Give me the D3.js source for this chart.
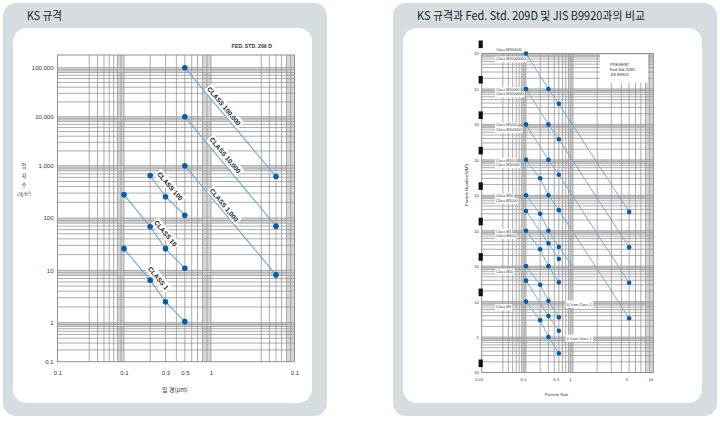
<!DOCTYPE html>
<html><head><meta charset="utf-8">
<script src="https://cdn.jsdelivr.net/npm/d3@7/dist/d3.min.js"></script>
<style>html,body{margin:0;padding:0;background:#fff;}svg{display:block;}</style>
</head><body>
<svg id="chart" width="720" height="424"></svg>
<script>
// ================= DATA =================
const leftTitle = "KS 규격";
const rightTitle = "KS 규격과 Fed. Std. 209D 및 JIS B9920과의 비교";

// Left chart: FED. STD. 209 D  (particle size µm -> particles per ft³)
const leftSizesLow = [0.1, 0.2, 0.3, 0.5];
const leftSizesMid = [0.2, 0.3, 0.5];
const leftSizesHigh = [0.5, 6];
const class1 = [26, 6.5, 2.5, 1.05];
const class10 = [280, 68, 26, 11];
const class100 = [650, 255, 113];
const class1000 = [1000, 8.2];
const class10000 = [10000, 70];
const class100000 = [100000, 620];
const leftClassNames = ["CLASS 1", "CLASS 10", "CLASS 100", "CLASS 1,000", "CLASS 10,000", "CLASS 100,000"];
const leftYTicks = [0.1, 1, 10, 100, 1000, 10000, 100000];
const leftYTickLabels = ["0.1", "1", "10", "100", "1,000", "10,000", "100,000"];
const leftXTicks = [0.01, 0.1, 0.3, 0.5, 1, 10];
const leftXTickLabels = ["0.1", "0.1", "0.3", "0.5", "1", "0.1"];
const leftStdLabel = "FED. STD. 209 D";
const leftYTitle = ["입", "자", "수", "(개/ft³)"];
const leftXTitle = "입 경(μm)";

// Right chart: comparison (particle size µm -> particles per m³)
const rSizesA = [0.1, 0.3, 0.5, 5];
const rSizesB = [0.1, 0.2, 0.3, 0.5, 5];
const rSizesC = [0.1, 0.2, 0.3, 0.5, 1];
const rSizesD = [0.1, 0.2, 0.3, 0.5];
const rSizesE = [0.1, 0.3, 0.5];
const rLine1 = [1e8, 1e7, 3.8e6, 3400];
const rLine2 = [1e7, 1e6, 3.8e5, 340];
const rLine3 = [1e6, 1e5, 3.8e4, 34];
const rLine4 = [1e5, 3e4, 1e4, 3800, 3.4];
const rLine5 = [1e4, 3e3, 1e3, 350, 95];
const rLine6 = [1000, 300, 100, 35];
const rLine7 = [100, 30, 10.5, 3.6];
const rLine8 = [10, 3, 1, 0.35];
const rLine9 = [3600, 440, 160];
const rLine10 = [39, 3.9, 1.5];
const rYTicks = [0.1, 1, 10, 100, 1000, 1e4, 1e5, 1e6, 1e7, 1e8];
const rYTickLabels = ["10", "1", "10", "10", "10", "10", "10", "10", "10", "10"];
const rXTicks = [0.01, 0.1, 0.5, 1, 5, 10];
const rXTickLabels = ["0.01", "0.1", "0.5", "1", "5", "10"];
const rClassLabelValues = [1e8, 1e7, 1e6, 1e5, 1e4, 1e3, 100, 10];
const rClassLabels = [
  ["Class M100000", "Class M10000000"],
  ["Class M10000", "Class M1000000"],
  ["Class M1000", "Class M100000"],
  ["Class M100", "Class M10000"],
  ["Class M10", "Class M1000"],
  ["Class M1", "Class M100"],
  ["", "Class M10"],
  ["", "Class M1"]
];
const rNoteLabels = ["0.1um Class 1", "0.1um Class 1"];
const rNoteValues = [8.5, 0.92];
const rNoteSize = 0.74;
const rLegend = ["PRESENT", "Fed.Std.209D", "JIS B9920"];
const rXTitle = "Particle Size";
const rYTitle = "Particle Number(N/M³)";

// ================= DRAWING =================
const svg = d3.select("#chart");
const FONT = "'Liberation Sans', Arial, Helvetica, sans-serif";
const KFONT = "'Noto Sans CJK KR', 'Noto Sans', sans-serif";
const DOT = "#0b5ba6", LINE = "#6ea9d8", GRID = "#979797", BAND = "#d8d8d8";

function panel(x, title, tlen) {
  svg.append("rect").attr("x", x).attr("y", 3).attr("width", 324).attr("height", 413).attr("rx", 13).attr("fill", "#d5dde0");
  svg.append("rect").attr("x", x + 10).attr("y", 28).attr("width", 299).attr("height", 375).attr("rx", 14).attr("fill", "#fff");
  svg.append("text").attr("x", x + 24).attr("y", 19.5).attr("font-family", KFONT).attr("font-size", 11.5)
    .attr("fill", "#1e1e1e").attr("textLength", tlen).attr("lengthAdjust", "spacingAndGlyphs").text(title);
}
panel(3, leftTitle, 35);
panel(393, rightTitle, 228);

function multVals(decades, mults) {
  const out = [];
  decades.forEach((d, i) => mults[i].forEach(m => out.push(d * m)));
  return out;
}
const M29 = [2, 3, 4, 5, 6, 7, 8, 9];

function drawGrid(g, x, y, xMinor, yMinor, xBand, yBand, xr, yr) {
  const [x0, x1] = xr, [y0, y1] = yr;
  xBand.forEach(d => {
    const a = Math.max(x0, x(d * 0.8)), b = Math.min(x1, x(d));
    g.append("rect").attr("x", a).attr("y", y0).attr("width", b - a).attr("height", y1 - y0).attr("fill", BAND);
  });
  yBand.forEach(d => {
    const a = Math.max(y0, y(d)), b = Math.min(y1, y(d * 0.8));
    g.append("rect").attr("x", x0).attr("y", a).attr("width", x1 - x0).attr("height", b - a).attr("fill", BAND);
  });
  xMinor.map(x).filter(p => p > x0 && p < x1).forEach(p =>
    g.append("line").attr("x1", p).attr("x2", p).attr("y1", y0).attr("y2", y1).attr("stroke", GRID).attr("stroke-width", 0.8));
  yMinor.map(y).filter(p => p > y0 && p < y1).forEach(p =>
    g.append("line").attr("x1", x0).attr("x2", x1).attr("y1", p).attr("y2", p).attr("stroke", GRID).attr("stroke-width", 0.8));
  g.append("rect").attr("x", x0).attr("y", y0).attr("width", x1 - x0).attr("height", y1 - y0)
    .attr("fill", "none").attr("stroke", "#858585").attr("stroke-width", 0.9);
}

function textWithBox(g, x, y, txt, fs, opts = {}) {
  const t = g.append("text").attr("x", x).attr("y", y).attr("font-family", FONT).attr("font-size", fs)
    .attr("fill", opts.fill || "#222").attr("font-weight", opts.weight || "normal")
    .attr("text-anchor", opts.anchor || "start").attr("dominant-baseline", "central").text(txt);
  const bb = t.node().getBBox();
  const p = opts.pad == null ? 0.8 : opts.pad;
  g.insert("rect", () => t.node()).attr("x", bb.x - p).attr("y", bb.y - p)
    .attr("width", bb.width + 2 * p).attr("height", bb.height + 2 * p).attr("fill", "#fff");
  return t;
}

// ---------- LEFT CHART ----------
const lX = d3.scaleLog().domain([0.01, 0.1, 1, 10]).range([57.5, 124, 211, 294.5]);
const lY = d3.scaleLog().domain([0.1, 1, 1000, 100000]).range([361.7, 322.7, 165.7, 67.7]);
const L = svg.append("g");
drawGrid(L, lX, lY,
  multVals([0.01, 0.1, 1], [[3, 4, 5, 6, 7, 8, 9], M29, [4, 5, 6, 7, 8, 9]]).concat([0.1, 1]),
  multVals([0.1, 1, 10, 100, 1000, 10000, 100000], [M29, M29, M29, M29, M29, M29, M29]).concat(leftYTicks),
  [0.1, 1, 10], [1, 10, 100, 1000, 10000, 100000, 1000000],
  [57.5, 294.5], [55, 361.7]);

const lyAxis = L.append("g").attr("transform", "translate(53.5,0)")
  .call(d3.axisLeft(lY).tickValues(leftYTicks).tickFormat((d, i) => leftYTickLabels[i]).tickSize(0).tickPadding(0));
lyAxis.select(".domain").remove();
lyAxis.selectAll("text").attr("font-size", 6).attr("font-family", FONT).attr("fill", "#333");
const lxAxis = L.append("g").attr("transform", "translate(0,370.8)")
  .call(d3.axisBottom(lX).tickValues(leftXTicks).tickFormat((d, i) => leftXTickLabels[i]).tickSize(0).tickPadding(0));
lxAxis.select(".domain").remove();
lxAxis.selectAll("text").attr("font-size", 6).attr("font-family", FONT).attr("fill", "#333");

L.append("text").attr("x", 251.7).attr("y", 45.7).attr("text-anchor", "middle").attr("dominant-baseline", "central")
  .attr("font-family", FONT).attr("font-size", 5.2).attr("font-weight", "bold").attr("fill", "#333").text(leftStdLabel);
leftYTitle.forEach((s, i) => L.append("text").attr("x", 24).attr("y", [165.7, 175.7, 185, 194][i])
  .attr("text-anchor", "middle").attr("dominant-baseline", "central").attr("font-family", KFONT)
  .attr("font-size", i === 3 ? 4.6 : 5.4).attr("fill", "#333").text(s));
L.append("text").attr("x", 175).attr("y", 389.5).attr("text-anchor", "middle").attr("dominant-baseline", "central")
  .attr("font-family", KFONT).attr("font-size", 6).attr("fill", "#333").text(leftXTitle);

const leftSeries = [
  { name: leftClassNames[0], sizes: leftSizesLow, vals: class1, t: 0.47, d: 7.5 },
  { name: leftClassNames[1], sizes: leftSizesLow, vals: class10, t: 0.59, d: 7.5 },
  { name: leftClassNames[2], sizes: leftSizesMid, vals: class100, t: 0.40, d: 8 },
  { name: leftClassNames[3], sizes: leftSizesHigh, vals: class1000, t: 0.39, d: 5 },
  { name: leftClassNames[4], sizes: leftSizesHigh, vals: class10000, t: 0.39, d: 6.5 },
  { name: leftClassNames[5], sizes: leftSizesHigh, vals: class100000, t: 0.385, d: 5.5 }
];
const lLine = d3.line().x(d => lX(d[0])).y(d => lY(d[1]));
leftSeries.forEach(s => {
  const pts = s.sizes.map((x, i) => [x, s.vals[i]]);
  const p0 = [lX(pts[0][0]), lY(pts[0][1])], p1 = [lX(pts[pts.length - 1][0]), lY(pts[pts.length - 1][1])];
  const ang = Math.atan2(p1[1] - p0[1], p1[0] - p0[0]);
  const cx = p0[0] + s.t * (p1[0] - p0[0]) + s.d * Math.sin(ang);
  const cy = p0[1] + s.t * (p1[1] - p0[1]) - s.d * Math.cos(ang);
  const lg = L.append("g").attr("transform", `translate(${cx},${cy}) rotate(${ang * 180 / Math.PI})`);
  textWithBox(lg, 0, 0, s.name, 6.6, { anchor: "middle", weight: "bold", fill: "#222", pad: 1.2 });
});
leftSeries.forEach(s => {
  const pts = s.sizes.map((x, i) => [x, s.vals[i]]);
  L.append("path").attr("d", lLine(pts)).attr("fill", "none").attr("stroke", LINE).attr("stroke-width", 1.1);
  L.selectAll(null).data(pts).enter().append("circle").attr("cx", d => lX(d[0])).attr("cy", d => lY(d[1]))
    .attr("r", 2.8).attr("fill", DOT);
});

// ---------- RIGHT CHART ----------
const rX = d3.scaleLog().domain([0.01, 0.1, 1, 10]).range([481.7, 526, 573, 653.3]);
const rY = d3.scaleLog().domain([0.1, 1e8]).range([372.5, 53.5]);
const R = svg.append("g");
drawGrid(R, rX, rY,
  multVals([0.01, 0.1, 1], [[3, 4, 5, 6, 7, 8, 9], M29, M29]).concat([0.1, 1]),
  multVals(rYTicks.slice(0, 9), rYTicks.slice(0, 9).map(() => M29)).concat(rYTicks),
  [0.1, 1, 10], rYTicks.slice(1).concat([1e9]),
  [481.7, 653.3], [53.5, 372.5]);

const ryAxis = R.append("g").attr("transform", "translate(479,0)")
  .call(d3.axisLeft(rY).tickValues(rYTicks).tickFormat((d, i) => rYTickLabels[i]).tickSize(0).tickPadding(0));
ryAxis.select(".domain").remove();
ryAxis.selectAll("text").attr("font-size", 4.3).attr("font-family", FONT).attr("fill", "#333");
rYTicks.forEach((v, i) => {
  if (rYTickLabels[i] === "1") return;
  R.append("rect").attr("x", 478.6).attr("y", rY(v) - 13).attr("width", 4.2).attr("height", 7.6).attr("fill", "#111");
});
const rxAxis = R.append("g").attr("transform", "translate(0,377.6)")
  .call(d3.axisBottom(rX).tickValues(rXTicks).tickFormat((d, i) => rXTickLabels[i]).tickSize(0).tickPadding(0));
rxAxis.select(".domain").remove();
rxAxis.selectAll("text").attr("font-size", 4.3).attr("font-family", FONT).attr("fill", "#333").attr("dx", -3);

R.append("text").attr("x", 556.7).attr("y", 394.5).attr("text-anchor", "middle").attr("dominant-baseline", "central")
  .attr("font-family", FONT).attr("font-size", 4.2).attr("fill", "#333").text(rXTitle);
R.append("text").attr("transform", "translate(466.7,185) rotate(-90)").attr("text-anchor", "middle")
  .attr("dominant-baseline", "central").attr("font-family", FONT).attr("font-size", 4.2).attr("fill", "#333").text(rYTitle);

// legend box
R.append("rect").attr("x", 600).attr("y", 54.3).attr("width", 48).attr("height", 28.5).attr("fill", "#fff");
rLegend.forEach((s, i) => R.append("text").attr("x", 610).attr("y", 64 + i * 5).attr("dominant-baseline", "central")
  .attr("font-family", FONT).attr("font-size", 4.1).attr("fill", "#333").text(s));

// class labels
rClassLabels.forEach((pair, i) => {
  const yv = rY(rClassLabelValues[i]);
  const offs = i === 0 ? [-3.5, 5.8] : [1, 5.5];
  pair.forEach((s, j) => { if (s) textWithBox(R, 496, yv + offs[j], s, 3.7, { fill: "#333", pad: 0.9 }); });
});
rNoteLabels.forEach((s, i) => textWithBox(R, rX(rNoteSize), rY(rNoteValues[i]), s, 3.9, { fill: "#333", pad: 1.2 }));

const rightSeries = [
  { sizes: rSizesA, vals: rLine1 }, { sizes: rSizesA, vals: rLine2 }, { sizes: rSizesA, vals: rLine3 },
  { sizes: rSizesB, vals: rLine4 }, { sizes: rSizesC, vals: rLine5, noDotLast: true },
  { sizes: rSizesD, vals: rLine6 }, { sizes: rSizesD, vals: rLine7 }, { sizes: rSizesD, vals: rLine8 },
  { sizes: rSizesE, vals: rLine9 }, { sizes: rSizesE, vals: rLine10 }
];
const rLineGen = d3.line().x(d => rX(d[0])).y(d => rY(d[1]));
rightSeries.forEach(s => {
  const pts = s.sizes.map((x, i) => [x, s.vals[i]]);
  R.append("path").attr("d", rLineGen(pts)).attr("fill", "none").attr("stroke", LINE).attr("stroke-width", 0.95);
});
rightSeries.forEach(s => {
  const pts = s.sizes.map((x, i) => [x, s.vals[i]]);
  const dots = s.noDotLast ? pts.slice(0, -1) : pts;
  R.selectAll(null).data(dots).enter().append("circle").attr("cx", d => rX(d[0])).attr("cy", d => rY(d[1]))
    .attr("r", 2.3).attr("fill", DOT);
});
</script>
</body></html>
